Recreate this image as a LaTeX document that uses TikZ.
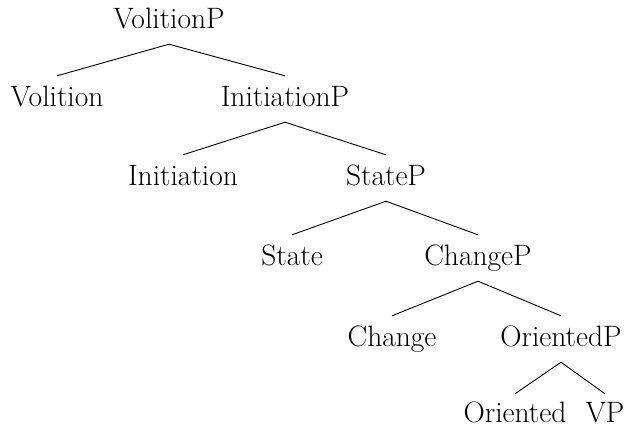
\documentclass[tikz,border=0pt]{standalone}
\begin{document}
\begin{tikzpicture}[x=1pt,y=1pt,
  lbl/.style={font=\fontsize{29.5}{34}\selectfont, text height=20pt, text depth=6pt, inner xsep=0pt, inner ysep=10pt, anchor=base},
  leaf/.style={lbl, text height=26pt, text depth=1pt, inner ysep=2pt},
  edge/.style={draw=black, line width=0.9pt}]
\useasboundingbox (0,0) rectangle (628,-429);
\node[lbl] (volp) at (169,-28) {VolitionP};
\node[lbl] (vol) at (57,-106) {Volition};
\node[lbl] (inip) at (285,-106) {InitiationP};
\node[lbl] (ini) at (183,-185) {Initiation};
\node[lbl] (stp) at (386,-185) {StateP};
\node[lbl] (st) at (292,-265) {State};
\node[lbl] (chp) at (478,-265) {ChangeP};
\node[lbl] (ch) at (392,-346) {Change};
\node[lbl] (orp) at (561,-346) {OrientedP};
\node[leaf] (or) at (515,-422) {Oriented};
\node[leaf] (vp) at (605,-422) {VP};
\draw[edge] (vol.north) -- (volp.south) -- (inip.north);
\draw[edge] (ini.north) -- (inip.south) -- (stp.north);
\draw[edge] (st.north) -- (stp.south) -- (chp.north);
\draw[edge] (ch.north) -- (chp.south) -- (orp.north);
\draw[edge] (or.north) -- (orp.south) -- (vp.north);
\end{tikzpicture}
\end{document}
